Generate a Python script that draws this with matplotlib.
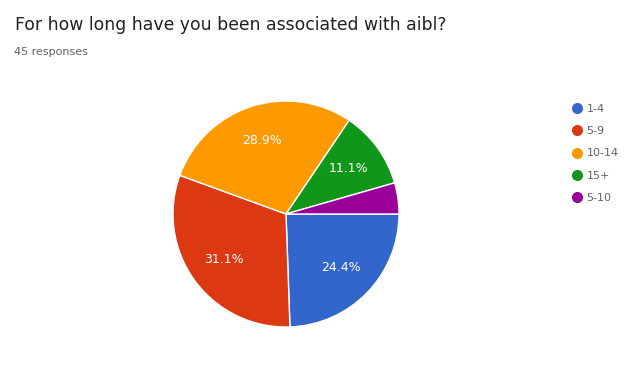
import matplotlib
matplotlib.use('Agg')
from matplotlib import pyplot as plt
from matplotlib.lines import Line2D

# Survey answers
labels = ['1-4', '5-9', '10-14', '15+', '5-10']
counts = [11, 14, 13, 5, 2]
colors = ['#3366cc', '#dc3912', '#ff9900', '#109618', '#990099']

title = 'For how long have you been associated with aibl?'
subtitle = '45 responses'

fig = plt.figure(figsize=(6.27, 3.65), dpi=100)
fig.patch.set_facecolor('white')

# Pie axes, centred around (286, 214) px, radius 113 px
ax = fig.add_axes([(286 - 113) / 627, (365 - 214 - 113) / 365, 226 / 627, 226 / 365])


def pct_label(p):
    # Google hides labels on tiny slices
    return '%.1f%%' % p if p > 6 else ''


wedges, texts, autotexts = ax.pie(counts, colors=colors, startangle=0, counterclock=False,
                                  autopct=pct_label, pctdistance=0.68,
                                  wedgeprops={'edgecolor': 'white', 'linewidth': 1},
                                  textprops={'color': 'white', 'fontsize': 9})
ax.set_xlim(-1, 1)
ax.set_ylim(-1, 1)
ax.set_aspect('equal')

# Title and subtitle
fig.text(15 / 627, 1 - 25 / 365, title, fontsize=12.4, color='#202124', va='center', ha='left')
fig.text(14 / 627, 1 - 52 / 365, subtitle, fontsize=8, color='#5f6368', va='center', ha='left')

# Legend
handles = [Line2D([0], [0], marker='o', color='w', markerfacecolor=c, markersize=9, linestyle='')
           for c in colors]
leg = fig.legend(handles, labels, loc='upper left', bbox_to_anchor=(560 / 627, 1 - 94 / 365),
                 frameon=False, fontsize=8, labelspacing=1.1, handletextpad=0.3,
                 handlelength=1.2, labelcolor='#5f6368')

plt.savefig('out.png', dpi=100)
